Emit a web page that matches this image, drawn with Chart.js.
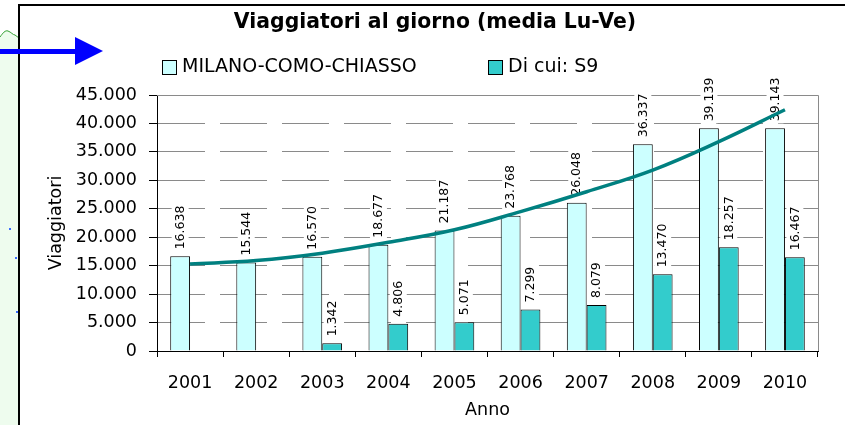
<!DOCTYPE html>
<html>
<head>
<meta charset="utf-8">
<script src="https://cdn.jsdelivr.net/npm/chart.js@4.4.1/dist/chart.umd.min.js"></script>
<style>
  html, body { margin: 0; padding: 0; background: #fff; }
</style>
</head>
<body>
<canvas id="chart" width="845" height="425"></canvas>
<script>
const years = ["2001", "2002", "2003", "2004", "2005", "2006", "2007", "2008", "2009", "2010"];
const milanoComoChiasso = [16638, 15544, 16570, 18677, 21187, 23768, 26048, 36337, 39139, 39143];
const diCuiS9 = [null, null, 1342, 4806, 5071, 7299, 8079, 13470, 18257, 16467];
// polynomial trendline as it reads off the picture
const trendLine = [15300, 15900, 17200, 19100, 21300, 24500, 28000, 31800, 36800, 42400];
const yMin = 0;
const yMax = 45000;
const yStep = 5000;

const FONT = "'DejaVu Sans', Verdana, sans-serif";

function formatIt(v) {
  return String(v).replace(/\B(?=(\d{3})+(?!\d))/g, ".");
}

// frame, arrow, plot border, legend and title
const decor = {
  id: "decor",
  beforeDraw(chart) {
    const ctx = chart.ctx;
    ctx.save();
    ctx.fillStyle = "#fff";
    ctx.fillRect(0, 0, chart.width, chart.height);

    // green strip on the left, with its wavy top
    ctx.beginPath();
    ctx.moveTo(0, 37);
    ctx.bezierCurveTo(3, 33, 5, 30, 8, 31);
    ctx.bezierCurveTo(11, 32, 13, 35, 15, 35);
    ctx.lineTo(19, 38);
    ctx.lineTo(19, 425);
    ctx.lineTo(0, 425);
    ctx.closePath();
    ctx.fillStyle = "#eefcee";
    ctx.fill();
    ctx.beginPath();
    ctx.moveTo(0, 37);
    ctx.bezierCurveTo(3, 33, 5, 30, 8, 31);
    ctx.bezierCurveTo(11, 32, 13, 35, 15, 35);
    ctx.lineTo(19, 38);
    ctx.strokeStyle = "#33a033";
    ctx.lineWidth = 1;
    ctx.stroke();

    ctx.fillStyle = "#3a6cff";
    ctx.fillRect(9, 228, 2, 2);
    ctx.fillRect(15, 257, 2, 2);
    ctx.fillRect(16, 311, 2, 2);

    // black frame
    ctx.fillStyle = "#000";
    ctx.fillRect(18, 4, chart.width - 18, 2);
    ctx.fillRect(18, 4, 2, chart.height - 4);

    // blue arrow
    ctx.fillStyle = "#0000ff";
    ctx.fillRect(0, 49, 77, 5);
    ctx.beginPath();
    ctx.moveTo(75, 37);
    ctx.lineTo(103, 51);
    ctx.lineTo(75, 65);
    ctx.closePath();
    ctx.fill();

    // title
    ctx.fillStyle = "#000";
    ctx.font = "bold 20.4px " + FONT;
    ctx.textAlign = "center";
    ctx.textBaseline = "middle";
    ctx.fillText("Viaggiatori al giorno (media Lu-Ve)", 435, 23);

    // legend
    const items = [
      { ds: chart.data.datasets[0], x: 162 },
      { ds: chart.data.datasets[1], x: 488 },
    ];
    ctx.font = "19px " + FONT;
    ctx.textAlign = "left";
    items.forEach((it) => {
      ctx.fillStyle = it.ds.backgroundColor;
      ctx.fillRect(it.x, 60, 14, 14);
      ctx.strokeStyle = "#000";
      ctx.lineWidth = 1;
      ctx.strokeRect(it.x + 0.5, 60.5, 14, 14);
      ctx.fillStyle = "#000";
      ctx.fillText(it.ds.label, it.x + 20, 67);
    });
    ctx.restore();
  },
  beforeDatasetsDraw(chart) {
    const { ctx, chartArea } = chart;
    ctx.save();
    ctx.strokeStyle = "#8a8a8a";
    ctx.lineWidth = 1;
    ctx.beginPath();
    ctx.moveTo(chartArea.left, chartArea.top + 0.5);
    ctx.lineTo(chartArea.right + 0.5, chartArea.top + 0.5);
    ctx.lineTo(chartArea.right + 0.5, chartArea.bottom);
    ctx.stroke();
    ctx.restore();
  },
  afterDatasetDraw(chart, args) {
    const meta = args.meta;
    if (meta.type !== "bar") return;
    const ctx = chart.ctx;
    const data = chart.data.datasets[args.index].data;
    ctx.save();
    ctx.font = "12.5px " + FONT;
    ctx.textAlign = "left";
    ctx.textBaseline = "middle";
    meta.data.forEach((el, i) => {
      const v = data[i];
      if (v === null || v === undefined) return;
      const txt = formatIt(v);
      const w = ctx.measureText(txt).width;
      ctx.save();
      ctx.translate(el.x, el.y - 7);
      ctx.rotate(-Math.PI / 2);
      ctx.fillStyle = "#fff";
      ctx.fillRect(-2, -8.5, w + 4, 17);
      ctx.fillStyle = "#000";
      ctx.fillText(txt, 0, 0.5);
      ctx.restore();
    });
    ctx.restore();
  },
};

new Chart(document.getElementById("chart"), {
  type: "bar",
  data: {
    labels: years,
    datasets: [
      {
        label: "MILANO-COMO-CHIASSO",
        data: milanoComoChiasso,
        backgroundColor: "#ccffff",
        borderColor: "#000",
        borderWidth: 1,
        categoryPercentage: 0.6,
        barPercentage: 1.0,
        order: 1,
      },
      {
        label: "Di cui: S9",
        data: diCuiS9,
        backgroundColor: "#33cccc",
        borderColor: "#000",
        borderWidth: 1,
        categoryPercentage: 0.6,
        barPercentage: 1.0,
        order: 1,
      },
      {
        type: "line",
        label: "trend",
        data: trendLine,
        borderColor: "#008080",
        borderWidth: 3.5,
        pointRadius: 0,
        tension: 0.4,
        fill: false,
        order: 0,
      },
    ],
  },
  options: {
    responsive: false,
    devicePixelRatio: 1,
    animation: false,
    layout: { padding: { top: 95, right: 27, bottom: 0, left: 0 } },
    plugins: {
      legend: { display: false },
      title: { display: false },
      tooltip: { enabled: false },
    },
    scales: {
      x: {
        ticks: { color: "#000", font: { family: FONT, size: 17.5 }, padding: 16 },
        grid: { drawOnChartArea: false, tickLength: 6, tickColor: "#000", offset: true },
        border: { color: "#000", width: 1 },
        title: {
          display: true,
          text: "Anno",
          color: "#000",
          font: { family: FONT, size: 17.5 },
          padding: { top: 0, bottom: 4 },
        },
        afterFit(scale) {
          scale.height = 74;
        },
      },
      y: {
        min: yMin,
        max: yMax,
        ticks: {
          stepSize: yStep,
          color: "#000",
          font: { family: FONT, size: 17.5 },
          padding: 12,
          callback: (v) => formatIt(v),
        },
        grid: { color: "#8a8a8a", tickColor: "#000", tickLength: 8 },
        border: { color: "#000", width: 1, dash: [47, 15] },
        title: {
          display: true,
          text: "Viaggiatori",
          color: "#000",
          font: { family: FONT, size: 17.5 },
          padding: { top: 46, bottom: 0 },
        },
        afterFit(scale) {
          scale.width = 157;
        },
      },
    },
  },
  plugins: [decor],
});
</script>
</body>
</html>
